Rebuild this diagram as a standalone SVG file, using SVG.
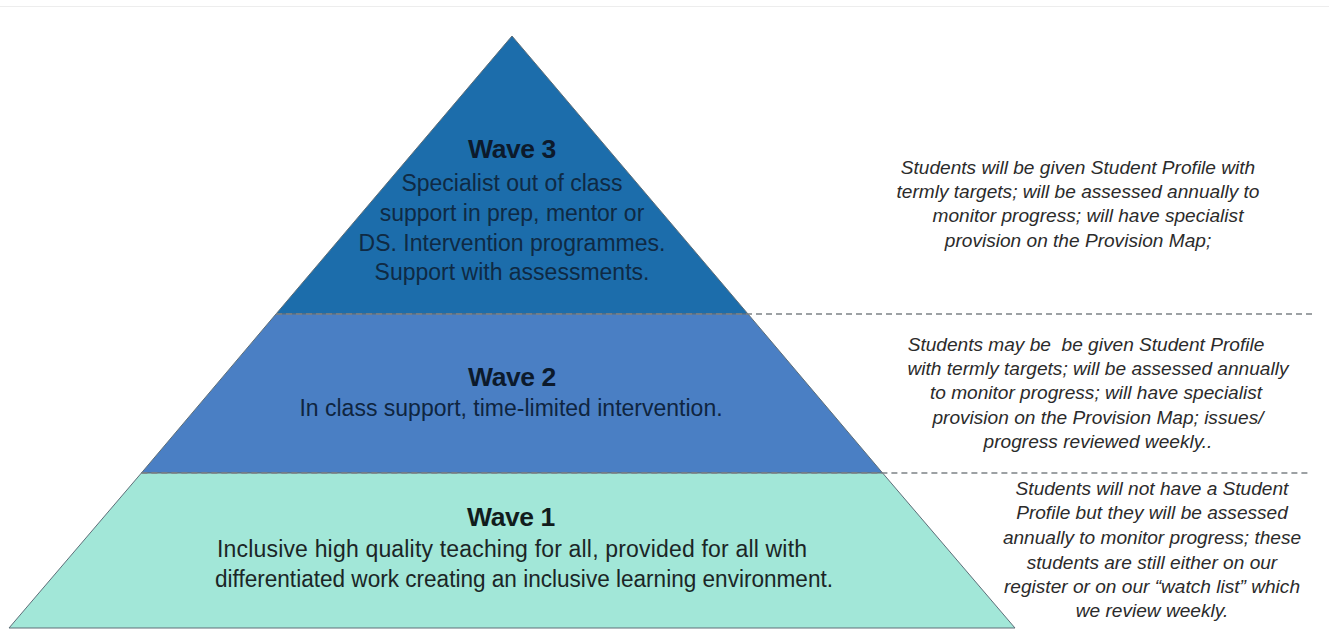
<svg xmlns="http://www.w3.org/2000/svg" width="1329" height="630" viewBox="0 0 1329 630">
  <style>
    .tier { stroke: #5e6e78; stroke-width: 1; }
    .title { font-family: "Liberation Sans", Arial, sans-serif; font-weight: bold; font-size: 26.5px; text-anchor: middle; letter-spacing: -0.4px; }
    .body { font-family: "Liberation Sans", Arial, sans-serif; font-size: 23px; text-anchor: middle; }
    .note { font-family: "Liberation Sans", Arial, sans-serif; font-style: italic; font-size: 19.1px; fill: #2b2b2b; text-anchor: middle; }
    .sep { stroke: #7d8287; stroke-width: 1.3; stroke-dasharray: 6 4; fill: none; }
  </style>

  <rect x="0" y="0" width="1329" height="630" fill="#ffffff"/>
  <line x1="0" y1="6.5" x2="1329" y2="6.5" stroke="#ededed" stroke-width="1"/>

  <!-- Wave 3: top of the pyramid -->
  <g id="wave3">
    <polygon class="tier" points="512,36 748,314 276,314" fill="#1c6dab"/>
    <text class="title" x="512" y="158" fill="#0c1a2c">Wave 3</text>
    <g class="body" fill="#0f2a44">
      <text x="512" y="191">Specialist out of class</text>
      <text x="512" y="221">support in prep, mentor or</text>
      <text x="512" y="251">DS. Intervention programmes.</text>
      <text x="512" y="280">Support with assessments.</text>
    </g>
  </g>

  <!-- Wave 2: middle band -->
  <g id="wave2">
    <polygon class="tier" points="276,314 748,314 882.6,473 141.4,473" fill="#4a7fc4"/>
    <text class="title" x="512" y="386" fill="#0c1a2c">Wave 2</text>
    <text class="body" x="511" y="416" fill="#0f2540">In class support, time-limited intervention.</text>
  </g>

  <!-- Wave 1: base band -->
  <g id="wave1">
    <polygon class="tier" points="141.4,473 882.6,473 1015,628 9,628" fill="#a2e7d8"/>
    <text class="title" x="511" y="526" fill="#111c1c">Wave 1</text>
    <g class="body" fill="#1b2626">
      <text x="512" y="557" textLength="590" lengthAdjust="spacing">Inclusive high quality teaching for all, provided for all with</text>
      <text x="524" y="587" textLength="618" lengthAdjust="spacingAndGlyphs">differentiated work creating an inclusive learning environment.</text>
    </g>
  </g>

  <!-- dashed separators between levels -->
  <g id="separators">
    <line class="sep" x1="276" y1="314" x2="1316" y2="314"/>
    <line class="sep" x1="141.4" y1="473" x2="1310" y2="473"/>
  </g>

  <!-- notes describing each level -->
  <g id="note3" class="note">
    <text x="1078" y="174">Students will be given Student Profile with</text>
    <text x="1078" y="198">termly targets; will be assessed annually to</text>
    <text x="1088" y="222">monitor progress; will have specialist</text>
    <text x="1078" y="247">provision on the Provision Map;</text>
  </g>

  <g id="note2" class="note">
    <text x="1086" y="351" xml:space="preserve">Students may be  be given Student Profile</text>
    <text x="1098" y="375">with termly targets; will be assessed annually</text>
    <text x="1096" y="399">to monitor progress; will have specialist</text>
    <text x="1098" y="424">provision on the Provision Map; issues/</text>
    <text x="1098" y="448">progress reviewed weekly..</text>
  </g>

  <g id="note1" class="note">
    <text x="1152" y="495">Students will not have a Student</text>
    <text x="1152" y="519">Profile but they will be assessed</text>
    <text x="1152" y="544">annually to monitor progress; these</text>
    <text x="1152" y="569">students are still either on our</text>
    <text x="1152" y="593">register or on our “watch list” which</text>
    <text x="1152" y="617">we review weekly.</text>
  </g>
</svg>
